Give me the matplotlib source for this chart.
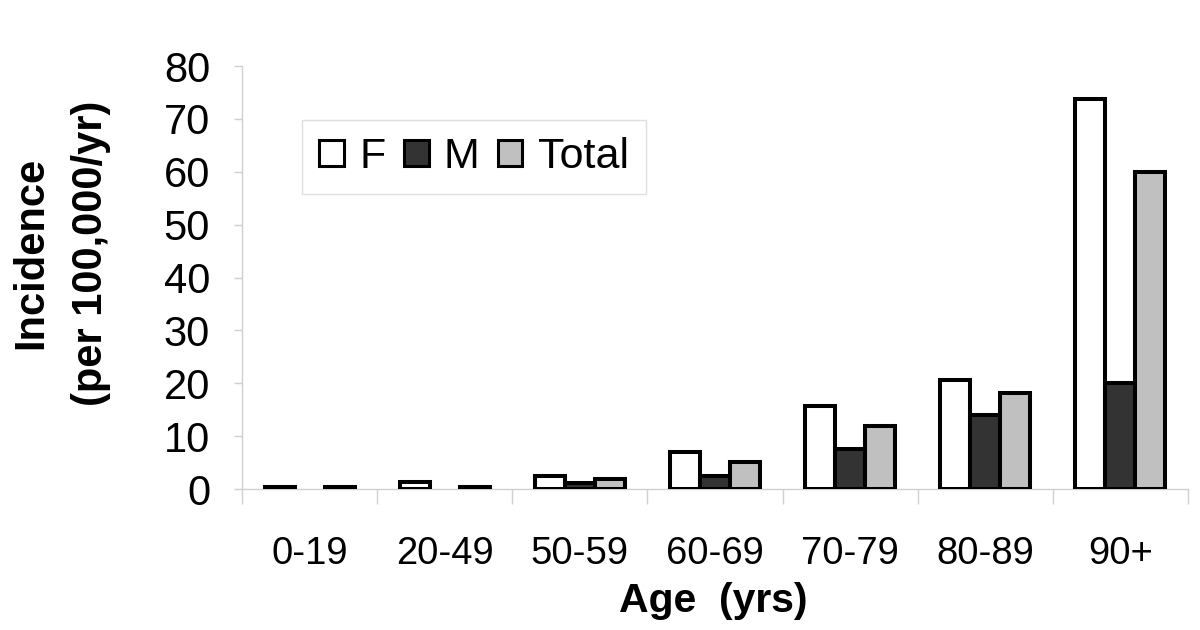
import matplotlib
matplotlib.use("Agg")
import matplotlib.pyplot as plt
import numpy as np
from matplotlib.patches import Patch

plt.rcParams['font.family'] = ['Liberation Sans', 'DejaVu Sans']

categories = ["0-19", "20-49", "50-59", "60-69", "70-79", "80-89", "90+"]
female = [0.3, 1.3, 2.5, 7.0, 15.7, 20.6, 73.7]
male = [0.0, 0.0, 1.1, 2.5, 7.6, 14.0, 20.0]
total = [0.3, 0.4, 1.9, 5.1, 11.9, 18.1, 59.9]
series_names = ["F", "M", "Total"]
colors = ["#ffffff", "#333333", "#c0c0c0"]
yticks = [0, 10, 20, 30, 40, 50, 60, 70, 80]

fig = plt.figure(figsize=(12, 6.3), dpi=100)
ax = fig.add_axes([0.2017, 0.2238, 0.9900 - 0.2017, 0.8952 - 0.2238])

x = np.arange(len(categories))
w = 0.222
for i, (vals, c) in enumerate(zip([female, male, total], colors)):
    vals = np.array(vals)
    lw = np.where(vals > 0, 2.9, 0.0)
    ax.bar(x + (i - 1) * w, vals, width=w, color=c, edgecolor="black",
           linewidth=lw, zorder=3)

ax.set_xlim(-0.5, len(categories) - 0.5)
ax.set_ylim(0, 80)
ax.set_yticks(yticks)
ax.set_yticklabels([str(t) for t in yticks], fontsize=30)
ax.set_xticks(x)
ax.set_xticklabels(categories, fontsize=27.5)
ax.set_xticks(np.arange(len(categories) + 1) - 0.5, minor=True)
ax.tick_params(axis='x', which='major', length=0, pad=34)
ax.tick_params(axis='x', which='minor', length=11, color="#d0d0d0", width=1)
ax.tick_params(axis='y', length=6, color="#d0d0d0", width=1, pad=17)

for s in ["top", "right"]:
    ax.spines[s].set_visible(False)
for s in ["left", "bottom"]:
    ax.spines[s].set_color("#d0d0d0")
    ax.spines[s].set_linewidth(1)

handles = [Patch(facecolor=c, edgecolor="black", linewidth=2.2) for c in colors]
leg = ax.legend(handles, series_names, loc="upper left",
                bbox_to_anchor=((302 - 242) / 946, (489 - 120) / 423),
                ncol=3, fontsize=31, frameon=True, fancybox=False,
                handlelength=0.58, handleheight=0.58, handletextpad=0.35,
                columnspacing=0.42, borderpad=0.4, borderaxespad=0)
leg.get_frame().set_edgecolor("#d8d8d8")
leg.get_frame().set_linewidth(1)

fig.text(0.594, 0.029, "Age  (yrs)", fontsize=29.5, fontweight="bold",
         ha="center", va="baseline")
fig.text(0.051, 0.598, "Incidence\n(per 100,000/yr)", fontsize=30,
         fontweight="bold", rotation=90, ha="center", va="center",
         multialignment="center", linespacing=1.62)

fig.savefig("out.png", dpi=100)
